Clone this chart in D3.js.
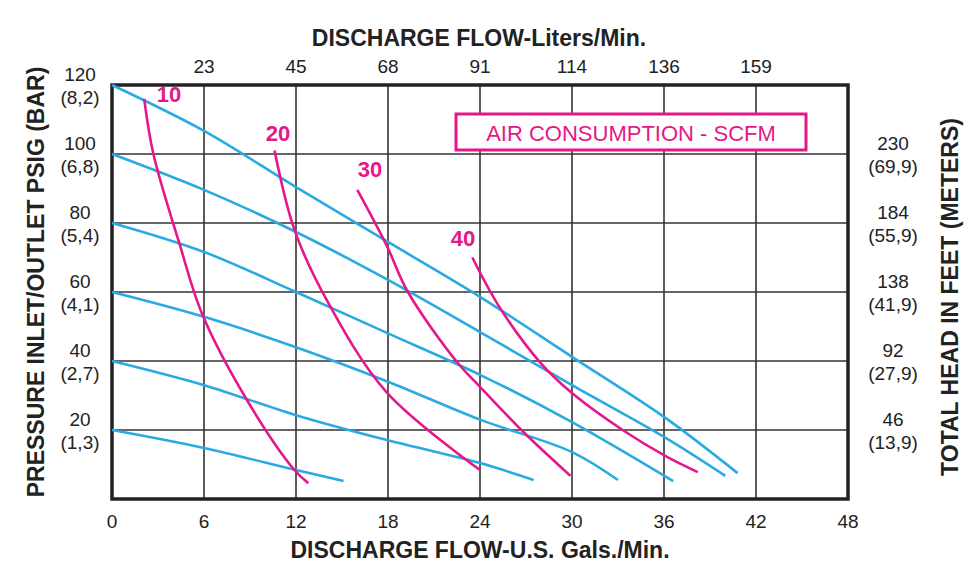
<!DOCTYPE html>
<html><head><meta charset="utf-8">
<script src="https://cdn.jsdelivr.net/npm/d3@7"></script>
<style>body{margin:0;background:#fff;font-family:"Liberation Sans",Arial,sans-serif;}</style>
</head><body><div id="chart"></div>
<script>
var width = 975, height = 568;
var x = d3.scaleLinear().domain([0, 48]).range([112, 848]);
var y = d3.scaleLinear().domain([0, 120]).range([499, 85]);

// pressure curves (gal/min, psig)
var pressure = [
	[[0,120],[6,106.7],[12,90.4],[18,74.5],[24,58.6],[30,41.2],[36,23.8],[40.8,7.5]],
	[[0,100],[6,89.6],[12,77.4],[18,63.5],[24,48.4],[30,33],[36,18],[40,6.7]],
	[[0,80],[6,71.6],[12,60],[18,48],[24,36],[30,22.3],[36.6,5.2]],
	[[0,60],[6,52.8],[12,44],[18,34],[24,23],[30,13.6],[33,5.5]],
	[[0,40],[6,33],[12,24.3],[18,17],[24,10.4],[27.5,5.5]],
	[[0,20],[6,14.8],[12,8.4],[15.1,5.2]]
];
// air consumption curves
var air = [
	{label:"10", lx:169, ly:102, pts:[[2.1,116],[2.7,100],[4.4,74],[5.9,53.4],[8.8,28.7],[11.9,8.4],[12.8,4.6]]},
	{label:"20", lx:278, ly:141, pts:[[10.6,101],[11.9,78],[14,57.7],[17.9,31],[24,8.4]]},
	{label:"30", lx:370, ly:177, pts:[[16,89.6],[17.9,73.6],[19.3,60],[22.5,39.7],[24,32.5],[26.7,20],[29.9,6.7]]},
	{label:"40", lx:463, ly:246, pts:[[23.5,70],[25.3,55.4],[27.9,39.7],[30,30.7],[33.3,20],[36.2,12.2],[38.2,7.8]]}
];
var leftLabels = [[120,"(8,2)"],[100,"(6,8)"],[80,"(5,4)"],[60,"(4,1)"],[40,"(2,7)"],[20,"(1,3)"]];
var rightLabels = [[100,"230","(69,9)"],[80,"184","(55,9)"],[60,"138","(41,9)"],[40,"92","(27,9)"],[20,"46","(13,9)"]];
var liters = ["23","45","68","91","114","136","159"];

var svg = d3.select("#chart").append("svg").attr("width", width).attr("height", height);

// grid
svg.append("g").selectAll("line").data(d3.range(6, 48, 6)).enter().append("line")
	.attr("x1", function(d){return x(d);}).attr("x2", function(d){return x(d);})
	.attr("y1", y(120)).attr("y2", y(0)).style("stroke","#333").style("stroke-width",1.6);
svg.append("g").selectAll("line").data(d3.range(20, 120, 20)).enter().append("line")
	.attr("x1", x(0)).attr("x2", x(48))
	.attr("y1", function(d){return y(d);}).attr("y2", function(d){return y(d);})
	.style("stroke","#333").style("stroke-width",1.6);
svg.append("rect").attr("x", x(0)).attr("y", y(120)).attr("width", x(48)-x(0)).attr("height", y(0)-y(120))
	.style("fill","none").style("stroke","#222").style("stroke-width",3.5);

var line = d3.line().x(function(d){return x(d[0]);}).y(function(d){return y(d[1]);}).curve(d3.curveCatmullRom);

svg.append("g").selectAll("path").data(pressure).enter().append("path")
	.attr("d", line).style("fill","none").style("stroke","#29abe2").style("stroke-width",2.6);
svg.append("g").selectAll("path").data(air).enter().append("path")
	.attr("d", function(d){return line(d.pts);}).style("fill","none").style("stroke","#e5178a").style("stroke-width",2.6);
svg.append("g").selectAll("text").data(air).enter().append("text")
	.attr("x", function(d){return d.lx;}).attr("y", function(d){return d.ly;})
	.attr("text-anchor","middle").style("fill","#e5178a").style("font-weight","bold").style("font-size","22px")
	.text(function(d){return d.label;});

// legend box
svg.append("rect").attr("x",456).attr("y",114).attr("width",350).attr("height",36)
	.style("fill","#fff").style("stroke","#e5178a").style("stroke-width",3);
svg.append("text").attr("x",631).attr("y",141).attr("text-anchor","middle")
	.style("fill","#e5178a").style("font-size","22px").text("AIR CONSUMPTION - SCFM");

// bottom axis
svg.append("g").selectAll("text").data(d3.range(0, 49, 6)).enter().append("text")
	.attr("x", function(d){return x(d);}).attr("y", 528).attr("text-anchor","middle")
	.style("font-size","19px").style("fill","#222").text(function(d){return d;});
svg.append("text").attr("x",480).attr("y",558).attr("text-anchor","middle")
	.style("font-size","23px").style("font-weight","bold").style("fill","#222").text("DISCHARGE FLOW-U.S. Gals./Min.");

// top axis
svg.append("g").selectAll("text").data(liters).enter().append("text")
	.attr("x", function(d,i){return x((i+1)*6);}).attr("y", 73).attr("text-anchor","middle")
	.style("font-size","19px").style("fill","#222").text(function(d){return d;});
svg.append("text").attr("x",479).attr("y",46).attr("text-anchor","middle")
	.style("font-size","23px").style("font-weight","bold").style("fill","#222").text("DISCHARGE FLOW-Liters/Min.");

// left axis
var lg = svg.append("g").selectAll("g").data(leftLabels).enter().append("g");
lg.append("text").attr("x",80).attr("y", function(d){return y(d[0]) - 4;}).attr("text-anchor","middle")
	.style("font-size","19px").style("fill","#222").text(function(d){return d[0];});
lg.append("text").attr("x",80).attr("y", function(d){return y(d[0]) + 19;}).attr("text-anchor","middle")
	.style("font-size","19px").style("fill","#222").text(function(d){return d[1];});
svg.append("text").attr("transform","translate(44,282) rotate(-90)").attr("text-anchor","middle")
	.style("font-size","23px").style("font-weight","bold").style("fill","#222").text("PRESSURE INLET/OUTLET PSIG (BAR)");

// right axis
var rg = svg.append("g").selectAll("g").data(rightLabels).enter().append("g");
rg.append("text").attr("x",893).attr("y", function(d){return y(d[0]) - 4;}).attr("text-anchor","middle")
	.style("font-size","19px").style("fill","#222").text(function(d){return d[1];});
rg.append("text").attr("x",893).attr("y", function(d){return y(d[0]) + 19;}).attr("text-anchor","middle")
	.style("font-size","19px").style("fill","#222").text(function(d){return d[2];});
svg.append("text").attr("transform","translate(958,297) rotate(-90)").attr("text-anchor","middle")
	.style("font-size","23px").style("font-weight","bold").style("fill","#222").text("TOTAL HEAD IN FEET (METERS)");
</script></body></html>
